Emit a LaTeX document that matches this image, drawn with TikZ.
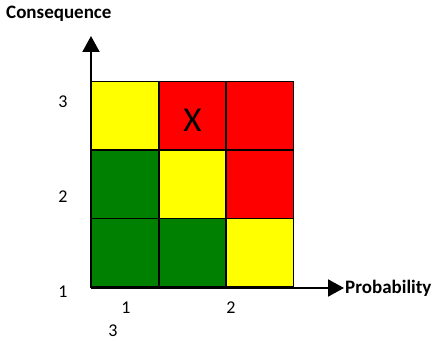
\documentclass[tikz,border=0pt]{standalone}
\usepackage{fontspec}
\setmainfont{Carlito}
\usetikzlibrary{arrows.meta,positioning}
\definecolor{riskgreen}{HTML}{008000}
\definecolor{riskyellow}{HTML}{FFFF00}
\definecolor{riskred}{HTML}{FF0000}

\begin{document}
\begin{tikzpicture}[x=1pt, y=-1pt, every node/.style={font=\fontsize{18}{20}\selectfont}]
    \useasboundingbox (0,0) rectangle (436,342);
    \tikzset{cell/.style={draw, line width=1.4pt, minimum width=67.2pt, minimum height=68.5pt, inner sep=0pt},
             axis/.style={line width=2pt, -{Triangle[width=17pt,length=16pt]}}}

    % risk matrix cells
    \node[cell, fill=riskyellow] (c13) at (125.3,115.8) {};
    \node[cell, fill=riskred]    (c23) at (192.5,115.8) {};
    \node[cell, fill=riskred]    (c33) at (259.7,115.8) {};
    \node[cell, fill=riskgreen]  (c12) at (125.3,184.2) {};
    \node[cell, fill=riskyellow] (c22) at (192.5,184.2) {};
    \node[cell, fill=riskred]    (c32) at (259.7,184.2) {};
    \node[cell, fill=riskgreen]  (c11) at (125.3,252.8) {};
    \node[cell, fill=riskgreen]  (c21) at (192.5,252.8) {};
    \node[cell, fill=riskyellow] (c31) at (259.7,252.8) {};
    \node[font=\fontsize{35}{38}\selectfont, inner sep=0pt] (mark) at (192.5,120.5) {X};

    % axes
    \coordinate (origin) at (91,288);
    \coordinate (ytip) at (91,36);
    \coordinate (xtip) at (344,288);
    \draw[axis] (origin) -- (ytip);
    \draw[axis] (origin) -- (xtip);
    \node[font=\fontsize{19}{21}\selectfont\bfseries, anchor=base west, inner sep=0pt] (ylabel) at (6,19) {Consequence};
    \node[font=\fontsize{19}{21}\selectfont\bfseries, anchor=base west, inner sep=0pt] (xlabel) at (345,293) {Probability};

    % tick labels
    \node (y3) at (63,102) {3};
    \node (y2) at (63,197) {2};
    \node (y1) at (63,292) {1};
    \node (x1) at (126,308) {1};
    \node (x2) at (231,308) {2};
    \node (x3) at (113,331) {3};
\end{tikzpicture}
\end{document}
